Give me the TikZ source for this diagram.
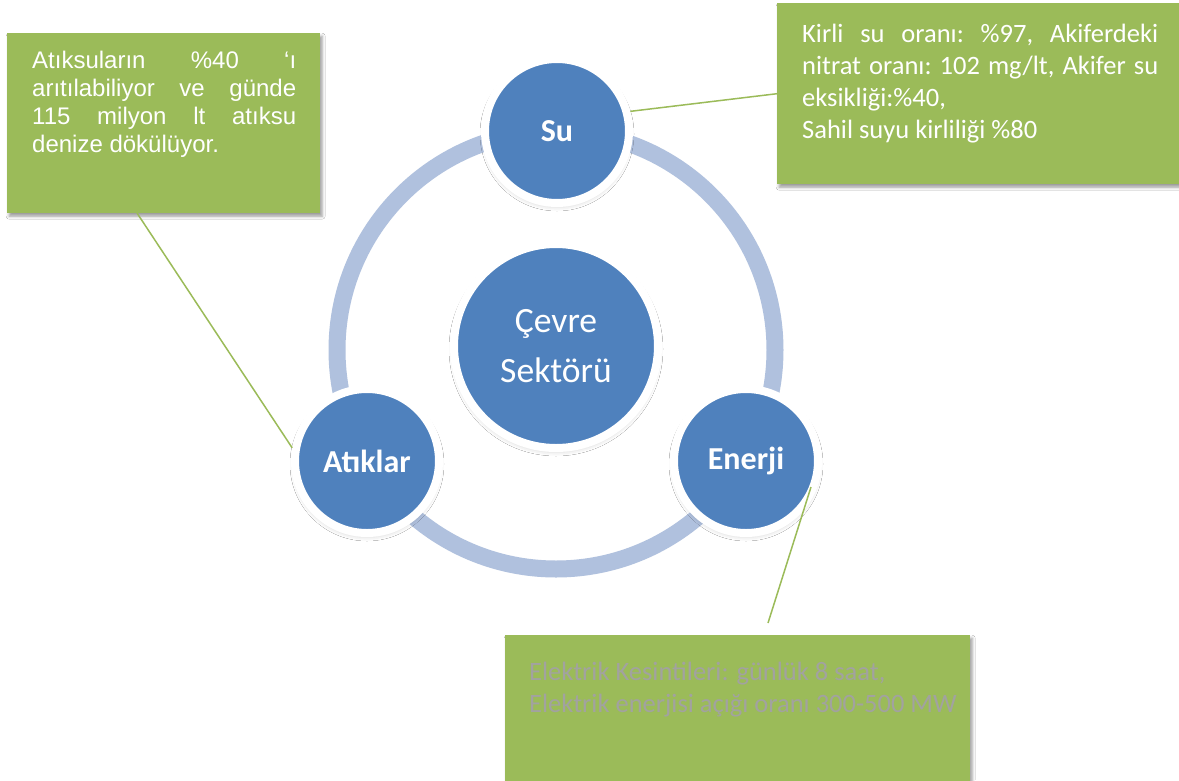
\documentclass[tikz,border=0pt]{standalone}
\usepackage{fontspec}
\setmainfont{Carlito}
\newfontfamily\arialf{Liberation Sans}
\usetikzlibrary{shadows.blur}
\definecolor{cblue}{RGB}{79,129,189}
\definecolor{cgreen}{RGB}{155,187,89}
\definecolor{cring}{RGB}{176,193,222}
\definecolor{cgraytext}{RGB}{162,162,160}
\newcommand{\jline}[1]{\hbox to \linewidth{\frenchspacing\spaceskip=0.25em plus 1fil\relax #1}}
\newcommand{\pline}[1]{\hbox{#1}}
\begin{document}
\begin{tikzpicture}[x=1pt,y=-1pt,
 ball/.style={circle, fill=cblue, draw=white, line width=8pt, minimum size=144pt, inner sep=0pt, text=white,
   font=\fontsize{32}{36}\selectfont\bfseries,
   blur shadow={shadow xshift=0pt, shadow yshift=-3pt, shadow blur radius=5pt, shadow opacity=22}},
 hub/.style={ball, minimum size=204pt, font=\fontsize{35.6}{50}\selectfont, align=center},
 panel/.style={rectangle, fill=cgreen, draw=none, inner sep=0pt, anchor=north west,
   blur shadow={shadow xshift=2pt, shadow yshift=-3pt, shadow blur radius=3pt, shadow opacity=40}},
 paneltext/.style={anchor=base west, inner sep=0pt, text=white, font=\fontsize{26.5}{32}\selectfont},
 link/.style={draw=cgreen, line width=1.5pt}
]
\fill[white] (0,0) rectangle (1179,780);
\useasboundingbox (0,0) rectangle (1179,780);

% ring
\node[circle, draw=cring, line width=17pt, minimum size=438pt, inner sep=0pt] (ring) at (556,350) {};

% circles
\node[hub] (hub) at (556,346) {Çevre\\Sektörü};
\node[ball] (su) at (557,131) {Su};
\node[ball] (atik) at (367,461) {Atıklar};
\node[ball] (ener) at (746,461) {Enerji};

% panels
\node[panel, minimum width=313pt, minimum height=180pt] (lbox) at (7,33) {};
\node[panel, minimum width=402pt, minimum height=181pt] (sbox) at (777,3) {};
\node[panel, minimum width=465pt, minimum height=146pt] (ebox) at (505,635) {};

% connectors
\coordinate (lstart) at (137,213);
\coordinate (ebeg) at (811,487);
\coordinate (eend) at (768,623);
\draw[link] (lstart) -- (atik.170);
\draw[link] (su.15) -- (sbox.west);
\draw[link] (ebeg) -- (eend);

% panel texts
\node[paneltext, font=\arialf\fontsize{24}{28}\selectfont] (ltxt) at (32,68)
 {\parbox[t]{264pt}{\jline{Atıksuların \%40 ‘ı}\jline{arıtılabiliyor ve günde}\jline{115 milyon lt atıksu}\pline{denize dökülüyor.}}};
\node[paneltext] (stxt) at (802,42)
 {\parbox[t]{356pt}{\jline{Kirli su oranı: \%97, Akiferdeki}\jline{nitrat oranı: 102 mg/lt, Akifer su}\pline{eksikliği:\%40,}\pline{Sahil suyu kirliliği \%80}}};
\node[paneltext, text=cgraytext] (etxt) at (529,680)
 {\parbox[t]{440pt}{\pline{Elektrik Kesintileri: günlük 8 saat,}\pline{Elektrik enerjisi açığı oranı 300-500 MW}}};
\end{tikzpicture}
\end{document}
